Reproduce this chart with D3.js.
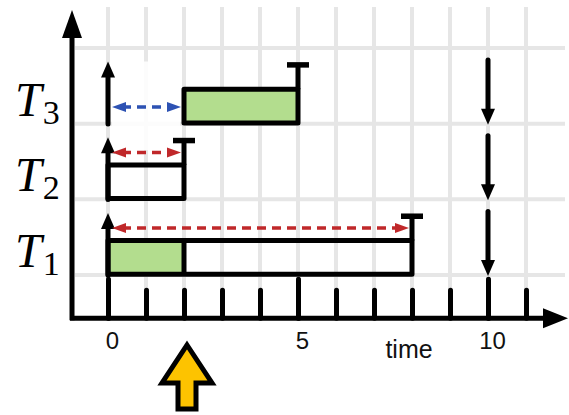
<!DOCTYPE html>
<html>
<head>
<meta charset="utf-8">
<script src="https://cdn.jsdelivr.net/npm/d3@7"></script>
<style>
  html, body { margin: 0; padding: 0; background: #fff; }
  svg { display: block; }
</style>
</head>
<body>
<div id="chart"></div>
<script>
// ---- data ----
const taskNames   = ["1", "2", "3"];      // subscripts of T
const releases    = [0, 0, 0];
const barStarts   = [0, 0, 2];
const barEnds     = [8, 2, 5];
const doneEnds    = [2, 0, 5];            // green (executed) part: barStart .. doneEnd
const deadlines   = [8, 2, 5];
const waitEnds    = [8, 2, 2];            // dashed arrow: release .. waitEnd
const waitColors  = ["#c0282a", "#c0282a", "#2d52b3"];
const periodEnds  = [10, 10, 10];
const allTicks    = [0, 1, 2, 3, 4, 5, 6, 7, 8, 9, 10, 11];
const majorTicks  = [0, 5, 10];
const rowLevels   = [0, 1, 2, 3];
const currentTime = 2;
const axisTitle   = "time";

// ---- layout ----
const W = 569, H = 415;
const svg = d3.select("#chart").append("svg").attr("width", W).attr("height", H);

const x = d3.scaleLinear().domain([0, 10]).range([108, 488]);
const y = d3.scaleLinear().domain([0, 3]).range([275, 48]);

const axisY = y(-0.57);      // x axis line
const axisX = x(-0.947);     // y axis line
const SW = 5;
const gridColor = "#e6e6e6";

function headPath(tx, ty, dir, len, w) {
  const p = d3.path();
  if (dir === "up")    { p.moveTo(tx, ty); p.lineTo(tx - w/2, ty + len); p.lineTo(tx + w/2, ty + len); }
  if (dir === "down")  { p.moveTo(tx, ty); p.lineTo(tx - w/2, ty - len); p.lineTo(tx + w/2, ty - len); }
  if (dir === "left")  { p.moveTo(tx, ty); p.lineTo(tx + len, ty - w/2); p.lineTo(tx + len, ty + w/2); }
  if (dir === "right") { p.moveTo(tx, ty); p.lineTo(tx - len, ty - w/2); p.lineTo(tx - len, ty + w/2); }
  p.closePath();
  return p.toString();
}

// ---- grid ----
const grid = svg.append("g");
grid.selectAll("line.v").data(allTicks).join("line")
  .attr("x1", d => x(d)).attr("x2", d => x(d))
  .attr("y1", 7).attr("y2", axisY)
  .attr("stroke", gridColor).attr("stroke-width", 4);
grid.selectAll("line.h").data(rowLevels).join("line")
  .attr("x1", axisX + 3).attr("x2", 565)
  .attr("y1", d => y(d)).attr("y2", d => y(d))
  .attr("stroke", gridColor).attr("stroke-width", 4);

const idx = d3.range(taskNames.length);

// white gap over grid where a task waits before starting
svg.append("g").selectAll("rect").data(idx.filter(i => barStarts[i] > releases[i])).join("rect")
  .attr("x", i => x(releases[i] + 0.1))
  .attr("width", i => x(barStarts[i] - 0.1) - x(releases[i] + 0.1))
  .attr("y", i => y(i + 0.82))
  .attr("height", i => y(i - 0.35) - y(i + 0.82))
  .attr("rx", 10)
  .attr("fill", "#fff").attr("opacity", 0.85);

// ---- ticks (D3 axes) ----
const minorAxis = d3.axisBottom(x).tickValues(allTicks).tickSizeInner(-28).tickSizeOuter(0).tickFormat("");
const majorAxis = d3.axisBottom(x).tickValues(majorTicks).tickSizeInner(-39).tickSizeOuter(0)
  .tickPadding(14).tickFormat(d3.format("d"));

const gMinor = svg.append("g").attr("transform", `translate(0,${axisY})`).call(minorAxis);
const gMajor = svg.append("g").attr("transform", `translate(0,${axisY})`).call(majorAxis);
[gMinor, gMajor].forEach(g => {
  g.select(".domain").remove();
  g.selectAll(".tick line").attr("stroke", "#000").attr("stroke-width", SW).attr("stroke-linecap", "round");
});
gMajor.selectAll(".tick text")
  .attr("fill", "#111").attr("font-family", "Liberation Sans, Arial, sans-serif")
  .attr("font-size", 24).attr("dx", 4);

// axis title
svg.append("text").attr("x", x(8) - 3).attr("y", axisY + 40)
  .attr("text-anchor", "middle")
  .attr("font-family", "Liberation Sans, Arial, sans-serif").attr("font-size", 25).attr("fill", "#111")
  .text(axisTitle);

// ---- axes lines + heads ----
svg.append("line").attr("x1", axisX - 2).attr("x2", 546).attr("y1", axisY).attr("y2", axisY)
  .attr("stroke", "#000").attr("stroke-width", SW);
svg.append("path").attr("d", headPath(568, axisY, "right", 25, 20)).attr("fill", "#000");
svg.append("line").attr("x1", axisX).attr("x2", axisX).attr("y1", axisY + 2).attr("y2", 36)
  .attr("stroke", "#000").attr("stroke-width", SW);
svg.append("path").attr("d", headPath(axisX, 10, "up", 28, 20)).attr("fill", "#000");

// ---- bars ----
const barTop = i => y(i + 0.455), barBot = i => y(i + 0.01);
const bars = svg.append("g");
// green executed fill
bars.selectAll("rect.fill").data(idx.filter(i => doneEnds[i] > barStarts[i])).join("rect")
  .attr("x", i => x(barStarts[i])).attr("y", barTop)
  .attr("width", i => x(doneEnds[i]) - x(barStarts[i]))
  .attr("height", i => barBot(i) - barTop(i))
  .attr("fill", "#b3dd8e");
// outline
bars.selectAll("rect.out").data(idx).join("rect")
  .attr("x", i => x(barStarts[i])).attr("y", barTop)
  .attr("width", i => x(barEnds[i]) - x(barStarts[i]))
  .attr("height", i => barBot(i) - barTop(i))
  .attr("fill", "none").attr("stroke", "#000").attr("stroke-width", SW).attr("stroke-linejoin", "round");
// divider between executed and remaining
bars.selectAll("line.div").data(idx.filter(i => doneEnds[i] > barStarts[i] && doneEnds[i] < barEnds[i])).join("line")
  .attr("x1", i => x(doneEnds[i])).attr("x2", i => x(doneEnds[i]))
  .attr("y1", barTop).attr("y2", barBot)
  .attr("stroke", "#000").attr("stroke-width", SW);

// ---- release up arrows ----
const rel = svg.append("g");
rel.selectAll("line").data(idx).join("line")
  .attr("x1", i => x(releases[i])).attr("x2", i => x(releases[i]))
  .attr("y1", i => barBot(i) + 1).attr("y2", i => y(i + 0.82) + 14)
  .attr("stroke", "#000").attr("stroke-width", SW).attr("stroke-linecap", "round");
rel.selectAll("path").data(idx).join("path")
  .attr("d", i => headPath(x(releases[i]), y(i + 0.82), "up", 16, 14)).attr("fill", "#000");

// ---- deadline T marks ----
const dl = svg.append("g");
dl.selectAll("line.s").data(idx).join("line")
  .attr("x1", i => x(deadlines[i])).attr("x2", i => x(deadlines[i]))
  .attr("y1", barTop).attr("y2", i => y(i + 0.79))
  .attr("stroke", "#000").attr("stroke-width", SW);
dl.selectAll("line.c").data(idx).join("line")
  .attr("x1", i => x(deadlines[i]) - 11).attr("x2", i => x(deadlines[i]) + 11)
  .attr("y1", i => y(i + 0.79) + 1).attr("y2", i => y(i + 0.79) + 1)
  .attr("stroke", "#000").attr("stroke-width", SW + 0.5);

// ---- dashed waiting/response arrows ----
const waitY = i => barStarts[i] > releases[i] ? y(i + 0.22) : y(i + 0.62);
const wa = svg.append("g");
wa.selectAll("line").data(idx).join("line")
  .attr("x1", i => x(releases[i]) + 14).attr("x2", i => x(waitEnds[i]) - 14)
  .attr("y1", waitY).attr("y2", waitY)
  .attr("stroke", i => waitColors[i]).attr("stroke-width", 3.5).attr("stroke-dasharray", "9,6");
wa.selectAll("path.l").data(idx).join("path")
  .attr("d", i => headPath(x(releases[i]) + 4, waitY(i), "left", 14, 10))
  .attr("fill", i => waitColors[i]);
wa.selectAll("path.r").data(idx).join("path")
  .attr("d", i => headPath(x(waitEnds[i]) - 3, waitY(i), "right", 14, 10))
  .attr("fill", i => waitColors[i]);

// ---- period end down arrows ----
const pe = svg.append("g");
pe.selectAll("line").data(idx).join("line")
  .attr("x1", i => x(periodEnds[i])).attr("x2", i => x(periodEnds[i]))
  .attr("y1", i => y(i + 0.84)).attr("y2", i => y(i) - 14)
  .attr("stroke", "#000").attr("stroke-width", SW).attr("stroke-linecap", "round");
pe.selectAll("path").data(idx).join("path")
  .attr("d", i => headPath(x(periodEnds[i]), y(i) + 1, "down", 16, 14)).attr("fill", "#000");

// ---- task labels ----
const lab = svg.append("g").selectAll("text").data(idx).join("text")
  .attr("x", 15).attr("y", i => y(i) - 8)
  .attr("font-family", "Liberation Serif, Times New Roman, serif").attr("fill", "#000");
lab.append("tspan").attr("font-style", "italic").attr("font-size", 48).text("T");
lab.append("tspan").attr("font-size", 34).attr("dy", 8).attr("dx", 1).text(i => taskNames[i]);

// ---- current time marker (yellow arrow) ----
const cx = x(currentTime) + 3;
const yp = d3.path();
yp.moveTo(cx, 345);
yp.lineTo(cx + 25, 383);
yp.lineTo(cx + 9, 383);
yp.lineTo(cx + 9, 409);
yp.lineTo(cx - 9, 409);
yp.lineTo(cx - 9, 383);
yp.lineTo(cx - 25, 383);
yp.closePath();
svg.append("path").attr("d", yp.toString())
  .attr("fill", "#fdc300").attr("stroke", "#000").attr("stroke-width", SW).attr("stroke-linejoin", "miter");
</script>
</body>
</html>
